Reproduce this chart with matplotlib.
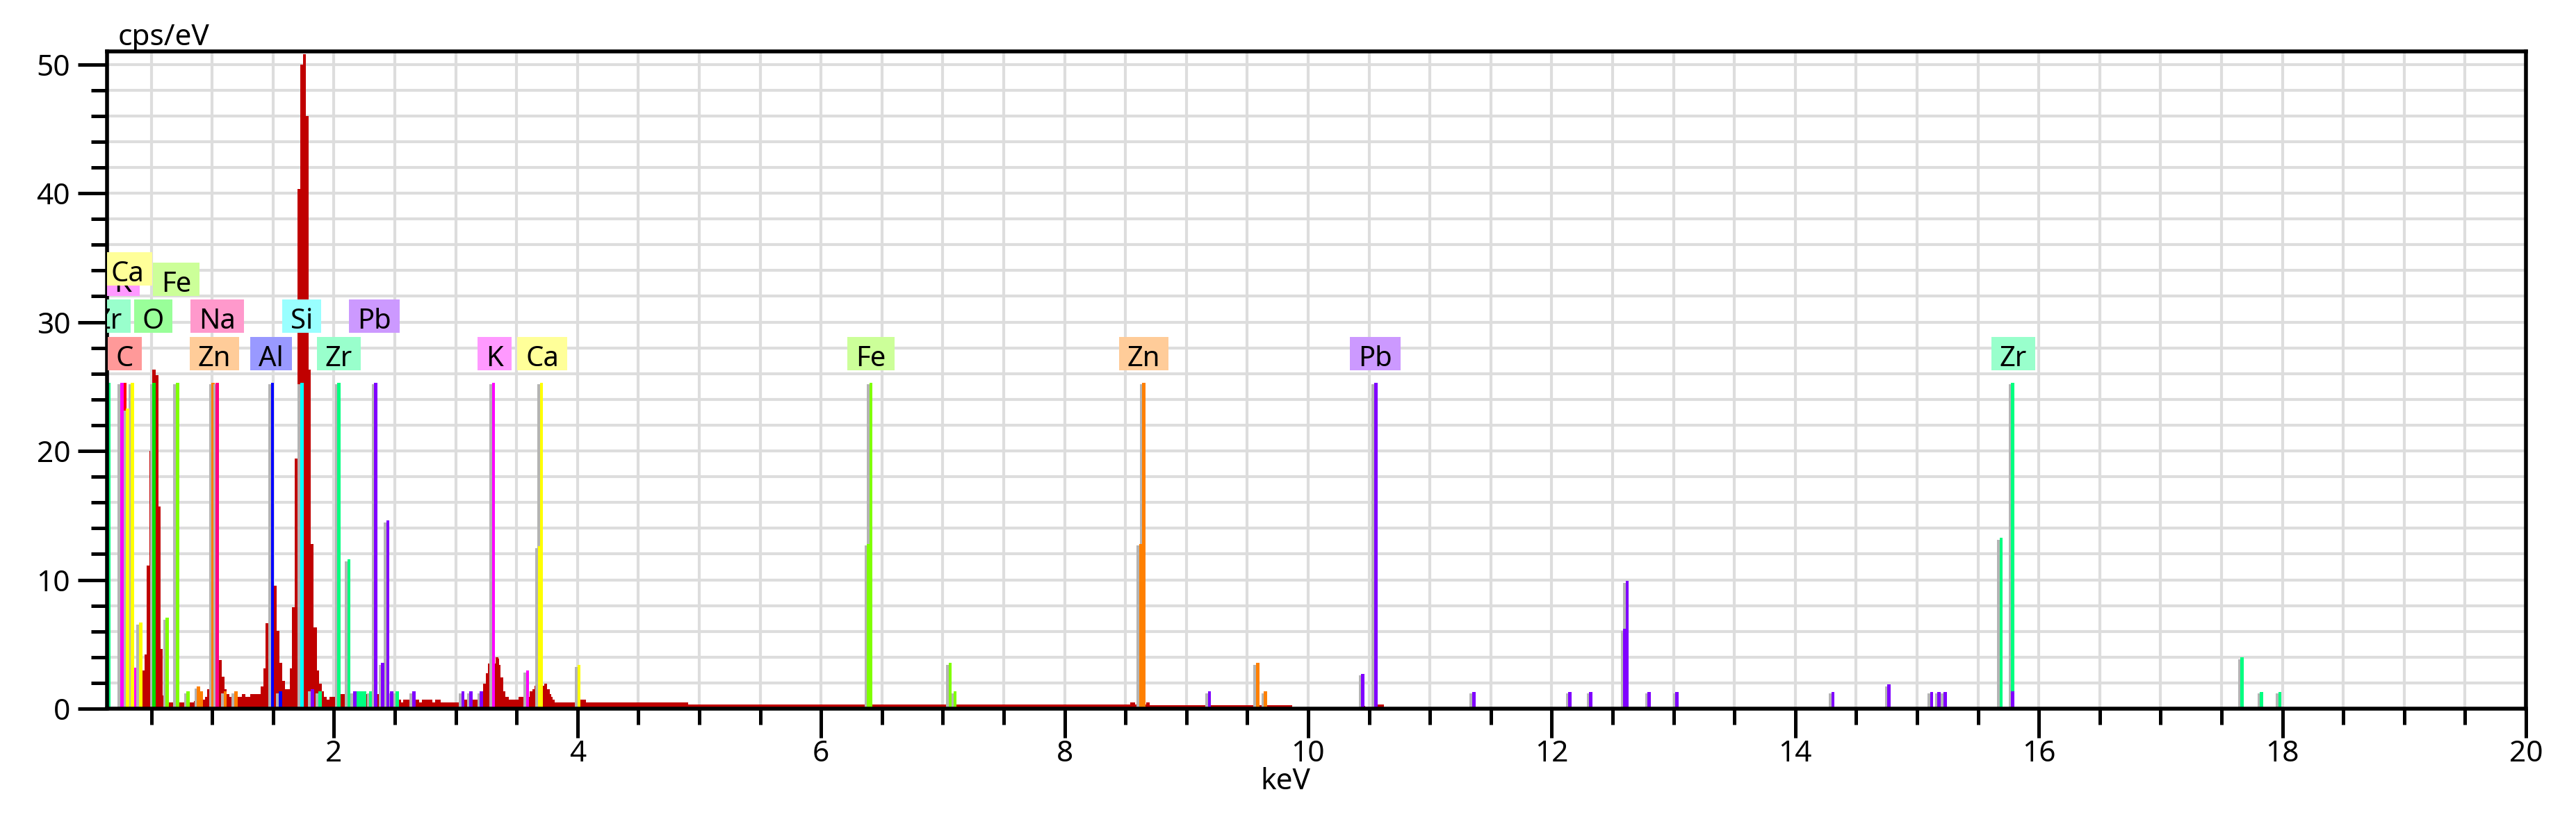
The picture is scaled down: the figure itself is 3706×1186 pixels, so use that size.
import matplotlib
matplotlib.use('Agg')
import matplotlib.pyplot as plt
from matplotlib.path import Path
from matplotlib.ticker import MultipleLocator
import numpy as np

# measured spectrum, step segments: left edge (keV) and cps/eV
spec_start = [0.425, 0.445, 0.461, 0.485, 0.507, 0.537, 0.560, 0.576, 0.595, 0.644,
              0.853, 0.920, 0.939, 0.960, 0.983, 1.056, 1.079, 1.101, 1.118, 1.140,
              1.245, 1.270, 1.310, 1.398, 1.420, 1.438, 1.460, 1.509, 1.532, 1.551,
              1.574, 1.597, 1.637, 1.656, 1.679, 1.703, 1.726, 1.746, 1.768, 1.790,
              1.812, 1.835, 1.858, 1.877, 1.900, 1.920, 1.940, 1.962, 2.057, 2.372,
              2.530, 2.550, 2.570, 2.700, 2.722, 2.811, 2.830, 2.878, 3.026, 3.206,
              3.225, 3.248, 3.265, 3.330, 3.350, 3.358, 3.370, 3.390, 3.410, 3.435,
              3.515, 3.610, 3.630, 3.650, 3.730, 3.750, 3.770, 3.785, 3.795, 3.810,
              3.990, 4.020, 4.070, 4.910, 8.540, 8.580, 8.670, 8.700, 9.870, 10.440,
              10.470, 10.570]
spec_end = 10.62
spec_cps = [2.96, 4.19, 11.1, 20.0, 26.3, 25.9, 15.7, 4.64, 1.0, 0.48,
            0.6, 0.7, 0.92, 1.51, 2.0, 3.77, 2.5, 1.51, 1.13, 0.92,
            1.13, 0.92, 1.13, 1.72, 3.14, 6.65, 9.6, 9.52, 6.02, 3.56,
            2.16, 1.51, 3.14, 7.87, 19.4, 40.3, 50.0, 50.8, 46.0, 26.3,
            12.8, 6.3, 2.96, 1.94, 1.35, 0.92, 0.7, 0.9, 1.13, 1.0,
            0.7, 0.48, 0.7, 0.48, 0.7, 0.48, 0.7, 0.48, 0.7, 1.13,
            1.94, 2.75, 3.5, 3.99, 3.86, 3.4, 2.4, 1.35, 0.9, 0.7,
            0.9, 1.35, 1.5, 1.8, 1.94, 1.5, 1.13, 0.9, 0.7, 0.48,
            0.5, 0.7, 0.48, 0.32, 0.48, 0.32, 0.48, 0.28, 0.0, 0.2,
            0.0, 0.3]
assert len(spec_start) == len(spec_cps)

# element marker lines (drawn in this order)
elements = ['C', 'O', 'Zn', 'Na', 'Al', 'Si', 'K', 'Ca', 'Fe', 'Zr', 'Pb']
line_keV = {
    'C': [0.283],
    'O': [0.523],
    'Zn': [0.888, 0.911, 1.008, 1.107, 1.194, 8.625, 8.65, 9.585, 9.65],
    'Na': [1.041],
    'Al': [1.495, 1.56],
    'Si': [1.736],
    'K': [0.258, 0.366, 3.31, 3.59],
    'Ca': [0.305, 0.346, 0.413, 3.687, 3.705, 4.013],
    'Fe': [0.631, 0.715, 0.802, 6.39, 6.41, 7.06, 7.10],
    'Zr': [0.15, 1.885, 2.042, 2.124, 2.20, 2.225, 2.25, 2.303, 2.52,
           15.69, 15.785, 17.67, 17.83, 17.98],
    'Pb': [1.822, 2.17, 2.343, 2.40, 2.443, 2.476, 2.655, 3.06, 3.125, 3.21,
           9.19, 10.45, 10.555, 11.36, 12.15, 12.32, 12.60, 12.62, 12.80, 13.03,
           14.31, 14.77, 15.12, 15.18, 15.23, 15.785],
}
line_cps = {
    'C': [25.3],
    'O': [25.3],
    'Zn': [1.72, 1.35, 25.3, 1.35, 1.35, 12.8, 25.3, 3.56, 1.35],
    'Na': [25.3],
    'Al': [25.3, 1.35],
    'Si': [25.3],
    'K': [25.3, 3.18, 25.3, 2.96],
    'Ca': [23.3, 25.3, 6.7, 12.6, 25.3, 3.38],
    'Fe': [7.04, 25.3, 1.35, 12.8, 25.3, 3.56, 1.35],
    'Zr': [25.3, 1.35, 25.3, 11.6, 1.35, 1.35, 1.35, 1.35, 1.35,
           13.26, 25.3, 3.99, 1.32, 1.32],
    'Pb': [1.51, 1.35, 25.3, 3.56, 14.6, 1.35, 1.35, 1.35, 1.35, 1.35,
           1.35, 2.72, 25.3, 1.32, 1.32, 1.32, 6.2, 9.93, 1.32, 1.32,
           1.32, 1.9, 1.32, 1.32, 1.32, 1.37],
}

# peak labels
label_el = ['Zr', 'C', 'K', 'Ca', 'O', 'Fe', 'Zn', 'Na', 'Al', 'Si', 'Zr', 'Pb',
            'K', 'Ca', 'Fe', 'Zn', 'Pb', 'Zr']
label_keV = [0.148, 0.282, 0.268, 0.305, 0.516, 0.704, 1.018, 1.041, 1.486, 1.735,
             2.04, 2.33, 3.318, 3.71, 6.41, 8.65, 10.55, 15.79]
label_row = [1, 0, 2, 3, 1, 2, 0, 1, 0, 1, 0, 1, 0, 0, 0, 0, 0, 0]

x_ticks = [2, 4, 6, 8, 10, 12, 14, 16, 18, 20]
y_ticks = [0, 10, 20, 30, 40, 50]

line_color = {'C': '#ff0000', 'O': '#00e000', 'Zn': '#ff8000', 'Na': '#ff0080',
              'Al': '#0000ff', 'Si': '#00ffff', 'K': '#ff00ff', 'Ca': '#ffff00',
              'Fe': '#80ff00', 'Zr': '#00ff80', 'Pb': '#8000ff'}
box_color = {'C': '#ff9999', 'O': '#99ff99', 'Zn': '#ffcc99', 'Na': '#ff99cc',
             'Al': '#9999ff', 'Si': '#99ffff', 'K': '#ff99ff', 'Ca': '#ffff99',
             'Fe': '#ccff99', 'Zr': '#99ffcc', 'Pb': '#cc99ff'}
row_base = [26.58, 29.51, 32.37, 33.18]

plt.rcParams['font.family'] = ['Noto Sans', 'DejaVu Sans']

W, H = 3706, 1186
FS = 30.5      # axis texts
FS_TAG = 28.8  # peak labels

fig = plt.figure(figsize=(W / 100, H / 100), dpi=100)
ax = fig.add_axes([154 / W, (H - 1020) / H, (3634 - 154) / W, (1020 - 74) / H])

ax.stairs(spec_cps, spec_start + [spec_end], fill=True, color='#c00000',
          linewidth=0, zorder=1)

bw, shift = 0.027, 0.02
for el in elements:
    e = np.array(line_keV[el])
    h = np.array(line_cps[el])
    ax.bar(e - shift, h - 0.15, width=bw, color='#b4b4b4', linewidth=0, zorder=2)
    ax.bar(e, h, width=bw, color=line_color[el], linewidth=0, zorder=2)


def tag_box(x0, y0, width, height, mutation_size):
    px = 0.30 * mutation_size
    x1, x2 = x0 - px, x0 + width + px
    y1, y2 = y0 + 0.09 * mutation_size, y0 + height + 0.30 * mutation_size
    return Path([(x1, y1), (x2, y1), (x2, y2), (x1, y2), (x1, y1)], closed=True)


for el, e, r in zip(label_el, label_keV, label_row):
    ax.text(e, row_base[r], el, ha='center', va='baseline', fontsize=FS_TAG,
            bbox=dict(boxstyle=tag_box, fc=box_color[el], ec='none'),
            zorder=5, clip_on=True)

ax.set_xlim(0.137, 20)
ax.set_ylim(0, 51)
ax.set_xticks(x_ticks)
ax.set_yticks(y_ticks)
ax.xaxis.set_minor_locator(MultipleLocator(0.5))
ax.yaxis.set_minor_locator(MultipleLocator(2))
ax.set_axisbelow(True)
ax.grid(True, which='both', color='#dddddd', linewidth=3)
ax.tick_params(which='major', length=30, width=3.6, labelsize=FS, direction='out')
ax.tick_params(which='minor', length=16.5, width=3.6, direction='out')
ax.tick_params(axis='x', which='major', pad=2)
ax.tick_params(axis='y', which='major', pad=8)
for s in ax.spines.values():
    s.set_linewidth(4)

fig.text(170 / W, 1 - 65 / H, 'cps/eV', fontsize=FS, ha='left', va='baseline')
fig.text(1849 / W, 1 - 1136 / H, 'keV', fontsize=FS, ha='center', va='baseline')

fig.savefig('out.png', dpi=100)
